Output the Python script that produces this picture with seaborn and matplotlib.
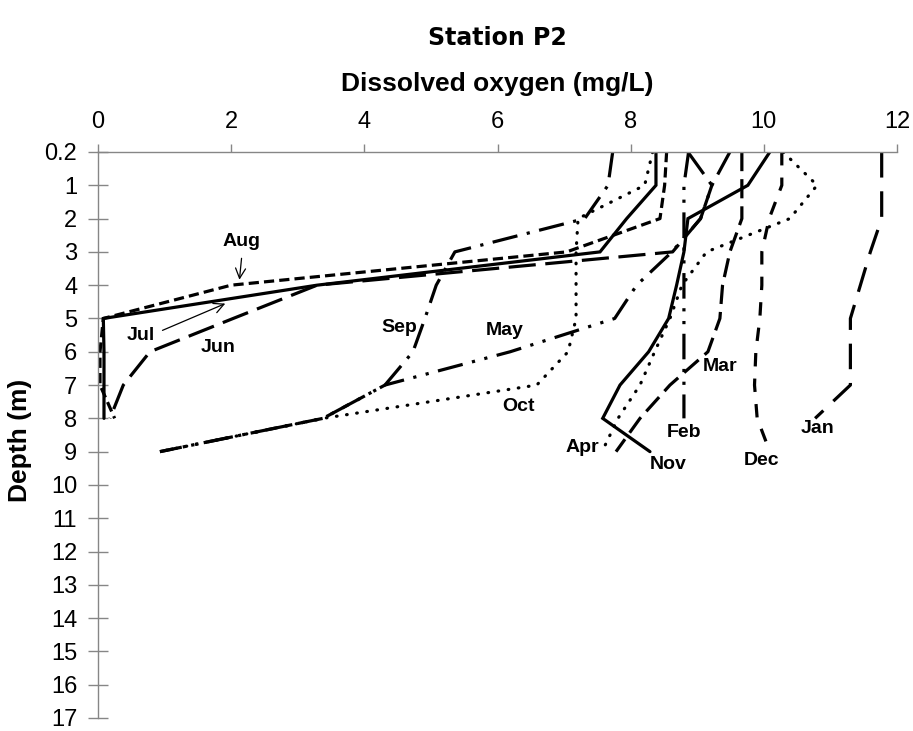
import matplotlib
matplotlib.use("Agg")
import matplotlib.pyplot as plt
import seaborn as sns
import pandas as pd

sns.set_theme(style="white")
plt.rcParams['font.family'] = ['Liberation Sans', 'DejaVu Sans']
plt.rcParams['text.color'] = 'black'
plt.rcParams['axes.labelcolor'] = 'black'
plt.rcParams['xtick.color'] = 'black'
plt.rcParams['ytick.color'] = 'black'

# Depth categories (equally spaced category axis)
depth_labels = ["0.2", "1", "2", "3", "4", "5", "6", "7", "8", "9", "10",
                "11", "12", "13", "14", "15", "16", "17"]

# Dissolved oxygen (mg/L) per month, from the surface downward
jan = [11.77, 11.77, 11.77, 11.6, 11.45, 11.3, 11.3, 11.3, 10.77]
feb = [8.87, 8.8, 8.8, 8.8, 8.8, 8.8, 8.8, 8.8, 8.8]
mar = [9.67, 9.67, 9.67, 9.49, 9.38, 9.34, 9.16, 8.59, 8.14, 7.78]
apr = [10.29, 10.8, 10.39, 9.14, 8.77, 8.59, 8.36, 8.14, 7.81, 7.57]
may = [9.49, 9.22, 9.05, 8.62, 8.09, 7.76, 6.19, 4.31, 3.38, 0.93]
jun = [8.86, 9.22, 9.05, 8.63, 3.29, 2.03, 0.78, 0.38, 0.18]
jul = [8.38, 8.38, 7.94, 7.54, 3.29, 0.08, 0.09, 0.09, 0.09]
aug = [8.54, 8.51, 8.44, 7.04, 2.0, 0.08, 0.03, 0.03, 0.25]
sep = [7.73, 7.66, 7.31, 5.36, 5.08, 4.91, 4.73, 4.31, 3.38, 0.93]
oct_ = [8.33, 8.21, 7.21, 7.18, 7.18, 7.18, 7.06, 6.59, 3.38, 0.93]
nov = [10.09, 9.76, 8.86, 8.8, 8.69, 8.57, 8.27, 7.84, 7.58, 8.29]
dec = [10.27, 10.27, 10.08, 9.97, 9.97, 9.94, 9.88, 9.86, 9.9, 10.09]

months = ["Jan", "Feb", "Mar", "Apr", "May", "Jun", "Jul", "Aug", "Sep",
          "Oct", "Nov", "Dec"]
series = [jan, feb, mar, apr, may, jun, jul, aug, sep, oct_, nov, dec]

styles = {
    "Jan": (0, (8, 4.3)),
    "Feb": (0, (8, 3, 1, 3, 1, 3)),
    "Mar": (0, (6, 2.5)),
    "Apr": (0, (0.2, 3.0)),
    "May": (0, (8, 3, 1, 3, 1, 3)),
    "Jun": (0, (8.5, 3)),
    "Jul": "-",
    "Aug": (0, (3.2, 1.6)),
    "Sep": (0, (8, 3, 1, 3)),
    "Oct": (0, (0.2, 3.0)),
    "Nov": "-",
    "Dec": (0, (4.2, 3.8)),
}

fig = plt.figure(figsize=(9.13, 7.31), dpi=100)
ax = fig.add_axes([98 / 913, 13 / 731, 799 / 913, 566 / 731])

for name, vals in zip(months, series):
    df = pd.DataFrame({"do": vals, "depth": list(range(len(vals)))})
    cap = "round" if name in ("Apr", "Oct") else "butt"
    sns.lineplot(data=df, x="do", y="depth", sort=False, estimator=None,
                 orient="y", ax=ax, color="black", lw=2.3,
                 linestyle=styles[name], dash_capstyle=cap,
                 solid_joinstyle="miter", legend=False)

ax.set_xlim(0, 12)
ax.set_ylim(17, 0)
ax.set_xticks(range(0, 13, 2))
ax.set_yticks(range(len(depth_labels)))
ax.set_yticklabels(depth_labels)
ax.xaxis.tick_top()
ax.set_xlabel("")
ax.set_ylabel("")

grey = "#868686"
for side in ("right", "bottom"):
    ax.spines[side].set_visible(False)
for side in ("left", "top"):
    ax.spines[side].set_color(grey)
    ax.spines[side].set_linewidth(1.0)
ax.tick_params(axis="x", which="major", top=True, bottom=False, direction="out",
               length=6, width=1, color=grey, labelsize=17, pad=8,
               labelcolor="black")
ax.tick_params(axis="y", which="major", left=True, direction="inout",
               length=14, width=1, color=grey, labelsize=17, pad=8,
               labelcolor="black")
ax.grid(False)

fig.text(497 / 913, 1 - 38 / 731, "Station P2", ha="center", va="center",
         fontsize=17, fontweight="bold", family=["DejaVu Sans"], color="black")
fig.text(497 / 913, 1 - 84 / 731, "Dissolved oxygen (mg/L)", ha="center",
         va="center", fontsize=19, fontweight="bold", color="black")
fig.text(20 / 913, 1 - 440 / 731, "Depth (m)", ha="center", va="center",
         rotation=90, fontsize=19, fontweight="bold", color="black")

lab_kw = dict(ha="center", va="center", fontsize=14, fontweight="bold",
              color="black")
labels = {
    "Aug": (2.15, 2.7), "Jul": (0.65, 5.5), "Jun": (1.8, 5.87),
    "Sep": (4.52, 5.27), "May": (6.11, 5.36), "Oct": (6.32, 7.63),
    "Apr": (7.28, 8.89), "Nov": (8.57, 9.4), "Feb": (8.8, 8.41),
    "Mar": (9.35, 6.44), "Dec": (9.97, 9.28), "Jan": (10.81, 8.29),
}
for name, (x, y) in labels.items():
    ax.text(x, y, name, **lab_kw)

arrow_kw = dict(arrowstyle="->", color="black", lw=0.9, mutation_scale=18)
ax.annotate("", xy=(2.12, 3.92), xytext=(2.16, 3.11), arrowprops=arrow_kw)
ax.annotate("", xy=(1.95, 4.52), xytext=(0.93, 5.39), arrowprops=arrow_kw)

fig.savefig("out.png", dpi=100)
